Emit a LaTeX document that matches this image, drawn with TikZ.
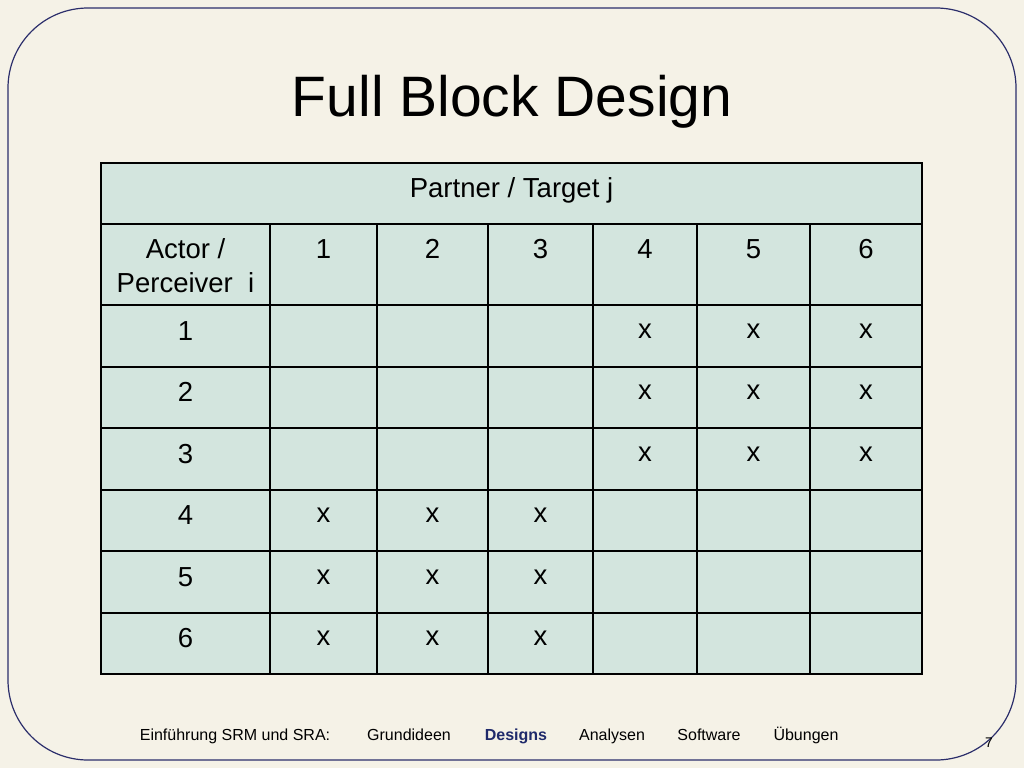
\documentclass[tikz,border=0pt]{standalone}
\usepackage{fontspec}
\setmainfont{Liberation Sans}
\begin{document}
\begin{tikzpicture}[x=1pt,y=-1pt,
  cell/.style={anchor=base,inner sep=0pt,font=\fontsize{27.5}{32}\selectfont},
  foot/.style={anchor=base,inner sep=0pt,font=\fontsize{16}{18}\selectfont}]
\definecolor{bg}{HTML}{F5F2E7}
\definecolor{tbl}{HTML}{D3E5DE}
\definecolor{frame}{HTML}{2B2E6B}
\definecolor{dblue}{HTML}{1F2A6B}
\fill[bg] (0,0) rectangle (1024,768);
\useasboundingbox (0,0) rectangle (1024,768);
\draw[frame,line width=1.2pt,rounded corners=80pt] (8,8) rectangle (1016,760);
\node[anchor=base,inner sep=0pt,font=\fontsize{57}{64}\selectfont] (title) at (512,116) {Full Block Design};
\fill[tbl] (101,163) rectangle (922,674);
\begin{scope}[line width=1.5pt]
\draw (101,163) rectangle (922,674);
\foreach \y in {224,305,367,428,490,551,613} \draw (101,\y) -- (922,\y);
\foreach \x in {270,377,488,593,697,810} \draw (\x,224) -- (\x,674);
\end{scope}
\node[cell] (hdr) at (511.5,197) {Partner / Target j};
\node[cell] (ap1) at (185.5,258) {Actor /};
\node[cell] (ap2) at (185.5,292) {Perceiver\ \ i};
\foreach \i/\x in {1/323.5,2/432.5,3/540.5,4/645,5/753.5,6/866}
  \node[cell] (c\i) at (\x,258) {\i};
\foreach \i/\y in {1/340,2/401,3/463,4/524,5/586,6/647}
  \node[cell] (r\i) at (185.5,\y) {\i};
\foreach \y/\n in {338/a,399/b,461/c}
  \foreach \x/\m in {645/4,753.5/5,866/6} \node[cell] (x\n\m) at (\x,\y) {x};
\foreach \y/\n in {522/d,584/e,645/f}
  \foreach \x/\m in {323.5/1,432.5/2,540.5/3} \node[cell] (x\n\m) at (\x,\y) {x};
\node[foot] (f1) at (235,740) {Einführung SRM und SRA:};
\node[foot] (f2) at (409,740) {Grundideen};
\node[foot,text=dblue,font=\fontsize{16}{18}\selectfont\bfseries] (f3) at (516,740) {Designs};
\node[foot] (f4) at (612,740) {Analysen};
\node[foot] (f5) at (709,740) {Software};
\node[foot] (f6) at (806,740) {Übungen};
\node[foot,font=\fontsize{14}{16}\selectfont] (pg) at (989,747) {7};
\end{tikzpicture}
\end{document}
